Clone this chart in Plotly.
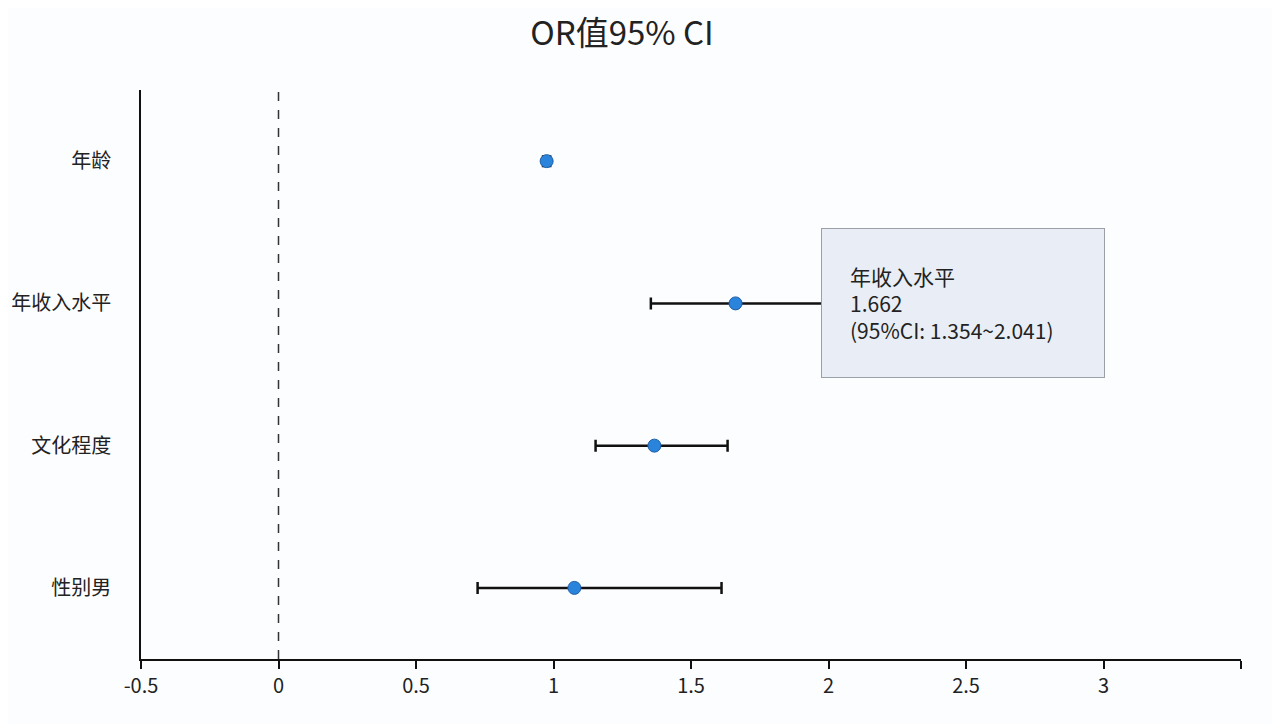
import plotly.graph_objects as go

categories = ["性别男", "文化程度", "年收入水平", "年龄"]
or_values = [1.076, 1.367, 1.662, 0.975]
ci_low = [0.724, 1.153, 1.354, 0.962]
ci_high = [1.611, 1.633, 2.041, 0.988]
x_ticks = [-0.5, 0, 0.5, 1, 1.5, 2, 2.5, 3, 3.5]
x_tick_labels = ["-0.5", "0", "0.5", "1", "1.5", "2", "2.5", "3", ""]

tip_idx = 2

font_family = "Noto Sans CJK SC, Noto Sans, sans-serif"

fig = go.Figure()
fig.add_trace(go.Scatter(
    x=or_values,
    y=categories,
    mode="markers",
    marker=dict(size=13, color="#2a84dc", line=dict(color="#1f5fa8", width=1)),
    error_x=dict(
        type="data",
        symmetric=False,
        array=[h - v for h, v in zip(ci_high, or_values)],
        arrayminus=[v - l for v, l in zip(or_values, ci_low)],
        color="#111111",
        thickness=2.5,
        width=6,
    ),
    showlegend=False,
))

fig.add_shape(type="line", xref="x", yref="paper", x0=0, x1=0, y0=0, y1=1,
              line=dict(color="#333333", width=1.5, dash="dash"))

fig.add_annotation(
    xref="x", yref="y", x=1.971, y=categories[tip_idx],
    xanchor="left", yanchor="middle",
    text=f"{categories[tip_idx]}<br>{or_values[tip_idx]:.3f}<br>(95%CI: {ci_low[tip_idx]:.3f}~{ci_high[tip_idx]:.3f})",
    showarrow=False, align="left", valign="middle",
    font=dict(family=font_family, size=21, color="#222222"),
    bgcolor="#e9eef6", bordercolor="#9a9fa8", borderwidth=1, borderpad=28,
    width=226, height=92,
)

fig.update_layout(
    width=1272, height=716,
    margin=dict(l=133, r=39, t=82, b=65, autoexpand=False),
    paper_bgcolor="#fcfdff", plot_bgcolor="#fcfdff",
    font=dict(family=font_family, size=20, color="#222222"),
    title=dict(text="OR值95% CI", x=0.4827, xanchor="center", y=0.965, yanchor="middle",
               font=dict(family=font_family, size=33, color="#222222")),
    xaxis=dict(
        range=[-0.5, 3.5], tickvals=x_ticks, ticktext=x_tick_labels,
        showgrid=False, zeroline=False, showline=True, linecolor="#111111", linewidth=1.5,
        ticks="outside", ticklen=8, tickcolor="#111111", tickwidth=1.5,
        tickfont=dict(size=20, color="#222222"), automargin=False,
    ),
    yaxis=dict(
        range=[-0.5, 3.5], categoryorder="array", categoryarray=categories,
        showgrid=False, zeroline=False, showline=True, linecolor="#111111", linewidth=1.5,
        ticks="", ticklabelstandoff=24, automargin=False,
        tickfont=dict(size=20, color="#222222"),
    ),
)

fig.write_html("out.html")
